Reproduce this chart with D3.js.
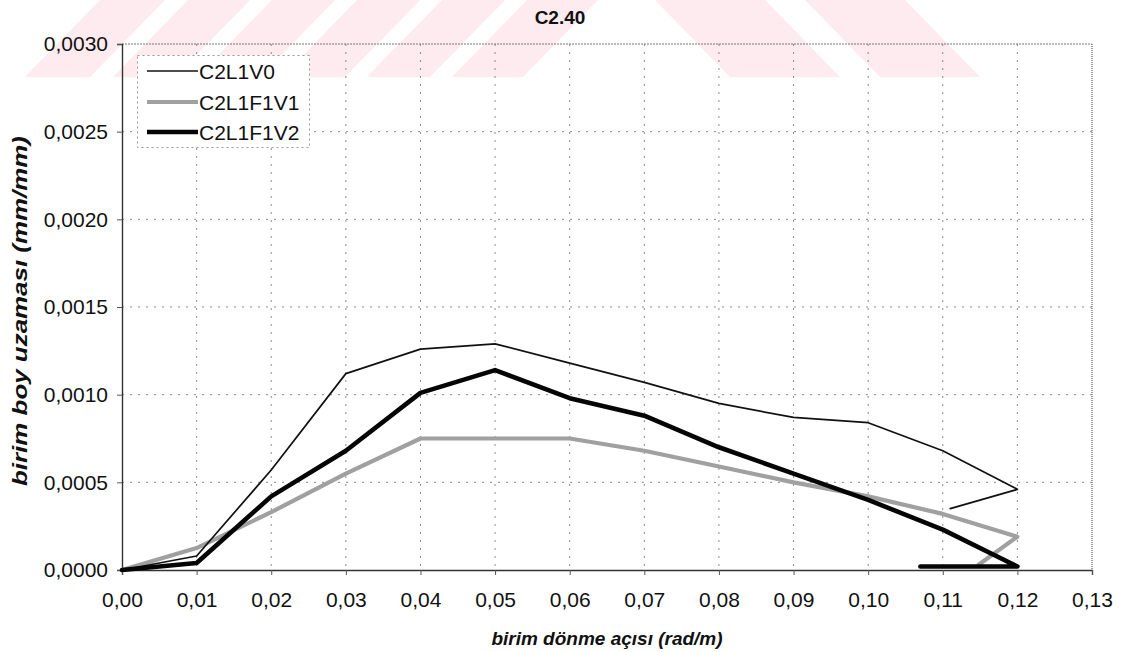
<!DOCTYPE html>
<html>
<head>
<meta charset="utf-8">
<script src="https://cdn.jsdelivr.net/npm/d3@7"></script>
<style>
  html, body { margin: 0; padding: 0; background: #fff; }
  svg { display: block; font-family: "Liberation Sans", Arial, sans-serif; }
</style>
</head>
<body>
<svg id="chart" width="1131" height="652"></svg>
<script>
// Rotation (rad/m) at each load step
const rotation = [0.00, 0.01, 0.02, 0.03, 0.04, 0.05, 0.06, 0.07, 0.08, 0.09, 0.10, 0.11, 0.12];

// Unit strain (mm/mm) per specimen
const c2l1v0   = [0, 0.00008, 0.00057, 0.00112, 0.00126, 0.00129, 0.00118, 0.00107, 0.00095, 0.00087, 0.00084, 0.00068, 0.00046];
const c2l1f1v1 = [0, 0.000125, 0.00033, 0.00055, 0.00075, 0.00075, 0.00075, 0.00068, 0.00059, 0.00050, 0.00042, 0.00032, 0.00019];
const c2l1f1v2 = [0, 0.00004, 0.00042, 0.00068, 0.00101, 0.00114, 0.00098, 0.00088, 0.00070, 0.00055, 0.00040, 0.00023, 0.00002];

// Unloading points recorded after the last step
const c2l1v0Tail   = [[0.111, 0.00035]];
const c2l1f1v1Tail = [[0.1148, 0.00003]];
const c2l1f1v2Tail = [[0.107, 0.00002]];

const seriesNames = ["C2L1V0", "C2L1F1V1", "C2L1F1V2"];
const xTicks = [0, 0.01, 0.02, 0.03, 0.04, 0.05, 0.06, 0.07, 0.08, 0.09, 0.10, 0.11, 0.12, 0.13];
const yTicks = [0, 0.0005, 0.0010, 0.0015, 0.0020, 0.0025, 0.0030];

const title = "C2.40";
const xTitle = "birim dönme açısı (rad/m)";
const yTitle = "birim boy uzaması (mm/mm)";

const svg = d3.select("#chart");

// faint pink diagonal watermark band across the top
const wm = svg.append("g").attr("fill", "#fdebef");
const bandH = 77;
const leftStripes = [[100, 165], [188, 250], [272, 335], [357, 420], [442, 505], [527, 598]];
const rightStripes = [[655, 765], [805, 905]];
leftStripes.forEach(([a, b]) => {
  wm.append("path").attr("d", `M${a},0L${b},0L${b - 75},${bandH}L${a - 75},${bandH}Z`);
});
rightStripes.forEach(([a, b]) => {
  wm.append("path").attr("d", `M${a},0L${b},0L${b + 75},${bandH}L${a + 75},${bandH}Z`);
});

const plotL = 122, plotR = 1092, plotT = 44, plotB = 570;
const x = d3.scaleLinear().domain([0, 0.13]).range([plotL, plotR]);
const y = d3.scaleLinear().domain([0, 0.003]).range([plotB, plotT]);

const loc = d3.formatLocale({ decimal: ",", thousands: ".", grouping: [3], currency: ["", ""] });
const fx = loc.format(".2f");
const fy = loc.format(".4f");

// grid
const grid = svg.append("g").attr("stroke", "#8a8a8a").attr("stroke-width", 1)
  .attr("stroke-dasharray", "2,6").attr("fill", "none");
xTicks.slice(1, -1).forEach(t => {
  grid.append("line").attr("x1", x(t)).attr("x2", x(t)).attr("y1", plotT).attr("y2", plotB);
});
yTicks.slice(1, -1).forEach(t => {
  grid.append("line").attr("x1", plotL).attr("x2", plotR).attr("y1", y(t)).attr("y2", y(t));
});

// plot frame: top and right edges
svg.append("line").attr("x1", plotL).attr("x2", plotR).attr("y1", plotT).attr("y2", plotT)
  .attr("stroke", "#777").attr("stroke-width", 1.2).attr("stroke-dasharray", "2,1");
svg.append("line").attr("x1", plotR).attr("x2", plotR).attr("y1", plotT).attr("y2", plotB)
  .attr("stroke", "#888").attr("stroke-width", 1.6).attr("stroke-dasharray", "1,1");

// axes
const xAxis = svg.append("g").attr("transform", `translate(0,${plotB})`)
  .call(d3.axisBottom(x).tickValues(xTicks).tickFormat(fx).tickSize(5).tickPadding(17));
const yAxis = svg.append("g").attr("transform", `translate(${plotL},0)`)
  .call(d3.axisLeft(y).tickValues(yTicks).tickFormat(fy).tickSize(5).tickPadding(9));
[xAxis, yAxis].forEach(g => {
  g.attr("font-size", null);
  g.select(".domain").attr("stroke", "#333").attr("stroke-width", 1.4);
  g.selectAll(".tick line").attr("stroke", "#555");
  g.selectAll(".tick text").attr("fill", "#111")
    .style("font-size", "21px")
    .style("font-family", "'Liberation Sans', Arial, sans-serif");
});

// series lines
const line = d3.line().x(d => x(d[0])).y(d => y(d[1]));
const toPts = (vals, tail) => rotation.map((r, i) => [r, vals[i]]).concat(tail);

const series = [
  { name: seriesNames[0], pts: toPts(c2l1v0, c2l1v0Tail), color: "#111", width: 1.7 },
  { name: seriesNames[1], pts: toPts(c2l1f1v1, c2l1f1v1Tail), color: "#a0a0a0", width: 4.2 },
  { name: seriesNames[2], pts: toPts(c2l1f1v2, c2l1f1v2Tail), color: "#050505", width: 4.6 }
];

const drawOrder = [series[1], series[0], series[2]];
drawOrder.forEach(s => {
  svg.append("path").datum(s.pts).attr("d", line)
    .attr("fill", "none").attr("stroke", s.color).attr("stroke-width", s.width)
    .attr("stroke-linejoin", "round").attr("stroke-linecap", "round");
});

// legend
const lg = svg.append("g");
lg.append("rect").attr("x", 137.5).attr("y", 55.5).attr("width", 172).attr("height", 92)
  .attr("fill", "#fff").attr("stroke", "#999").attr("stroke-dasharray", "2,3");
const rowsY = [71, 102, 132];
series.forEach((s, i) => {
  lg.append("line").attr("x1", 147).attr("x2", 198).attr("y1", rowsY[i]).attr("y2", rowsY[i])
    .attr("stroke", s.color).attr("stroke-width", s.width);
  lg.append("text").attr("x", 199).attr("y", rowsY[i]).attr("dy", "0.36em")
    .style("font-size", "21px").attr("fill", "#111").text(s.name);
});

// titles
svg.append("text").attr("x", 560).attr("y", 24).attr("text-anchor", "middle")
  .style("font-size", "19px").style("font-weight", "bold").attr("fill", "#111").text(title);
svg.append("text").attr("x", 607).attr("y", 645).attr("text-anchor", "middle")
  .style("font-size", "19px").style("font-weight", "bold").style("font-style", "italic")
  .attr("fill", "#111").text(xTitle);
svg.append("text").attr("transform", "translate(27,311) rotate(-90)").attr("text-anchor", "middle")
  .attr("textLength", 350).attr("lengthAdjust", "spacingAndGlyphs")
  .style("font-size", "21px").style("font-weight", "bold").style("font-style", "italic")
  .attr("fill", "#111").text(yTitle);
</script>
</body>
</html>
